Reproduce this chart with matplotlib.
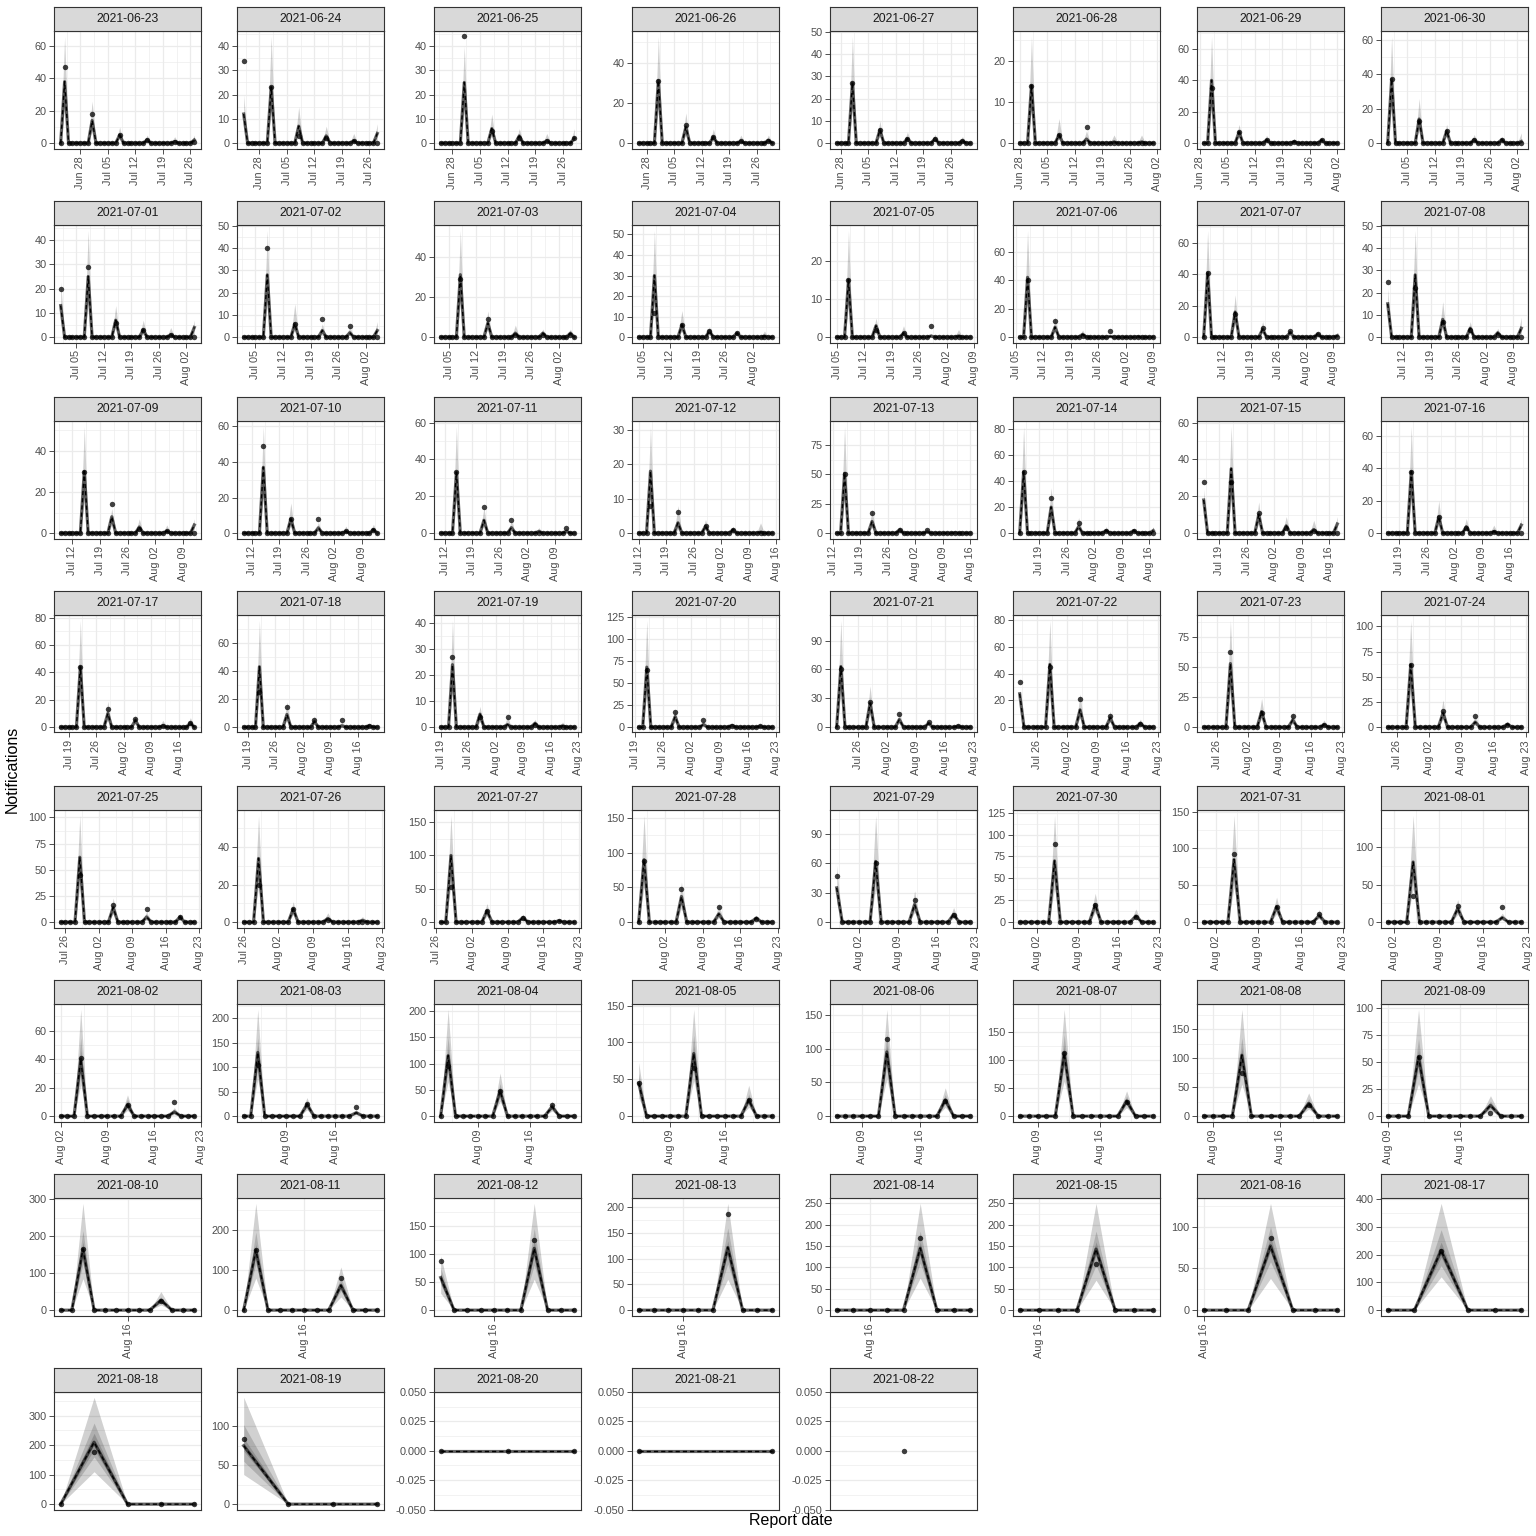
import numpy as np
import pandas as pd
import matplotlib
matplotlib.use("Agg")
import matplotlib.pyplot as plt
import matplotlib.dates as mdates
import matplotlib.transforms as mtransforms
from matplotlib.ticker import MultipleLocator, FuncFormatter

plt.rcParams['font.family'] = ['Liberation Sans', 'DejaVu Sans']

# --- facets: one per reference date, reports daily up to max delay ---
ref_dates = pd.date_range("2021-06-23", "2021-08-22", freq="D")
last_report = pd.Timestamp("2021-08-22")
max_delay = 34

# values on the weekly report day (Thursdays), in order, per reference date
obs_thu = [
    [47, 18, 5, 2, 1], [34, 23, 3, 2, 1], [44, 5, 2, 1, 2], [31, 9, 3, 1, 1],
    [27, 6, 2, 2, 1], [14, 2, 4, 0, 0], [35, 7, 2, 1, 2], [37, 13, 7, 2, 2],
    [20, 29, 6, 3, 1], [40, 6, 8, 5, 0], [29, 9, 1, 1, 1], [12, 6, 3, 2, 0],
    [15, 2, 1, 3, 0], [40, 11, 1, 4, 0], [41, 15, 6, 4, 2], [25, 22, 7, 3, 1],
    [30, 14, 2, 1, 0], [49, 8, 8, 1, 2], [33, 14, 7, 0, 3], [8, 6, 2, 1, 0],
    [50, 17, 3, 3, 0], [47, 27, 8, 2, 2], [28, 28, 11, 3, 1], [38, 10, 3, 1, 0],
    [44, 13, 6, 1, 3], [25, 14, 5, 5, 1], [27, 4, 4, 1, 0], [65, 17, 8, 1, 1],
    [60, 26, 14, 5, 1], [34, 45, 21, 8, 2], [63, 12, 9, 2], [62, 16, 11, 2],
    [45, 16, 13, 5], [20, 7, 1, 0], [52, 16, 6, 2], [88, 48, 22, 5],
    [47, 60, 23, 7], [89, 20, 6], [93, 20, 11], [35, 22, 20],
    [41, 8, 10], [105, 25, 19], [95, 48, 22], [45, 65, 22],
    [114, 22], [113, 25], [75, 20], [55, 3],
    [165, 25], [150, 80], [88, 125], [188],
    [170], [108], [87], [215],
    [178], [84], [], [], [],
]
med_thu = [
    [38, 14, 5, 2, 1], [12, 23, 7, 3, 1], [25, 6, 3, 1, 2], [31, 8, 3, 1, 1.5],
    [27, 6, 2, 2, 1], [14, 2, 1, 0.3, 0.3], [40, 7, 2, 1, 2], [37, 14, 7, 2, 2],
    [13, 25, 7, 3, 1], [28, 6, 3, 2, 3], [31, 7, 2, 2, 2], [30, 6, 3, 2, 0.5],
    [15, 3, 1, 0.3, 0.3], [42, 7, 2, 0.5, 0.3], [41, 16, 5, 3, 2], [15, 28, 8, 4, 2],
    [30, 8, 3, 1, 4], [37, 8, 3, 1, 2], [33, 7, 3, 1, 1], [18, 3, 2, 1, 0.3],
    [51, 10, 3, 1, 0.3], [47, 20, 5, 2, 2], [18, 35, 10, 4, 2], [38, 10, 4, 1, 5],
    [44, 10, 5, 1, 3], [43, 9, 4, 1, 1], [24, 5, 1, 1.5, 0.5], [68, 12, 3, 2, 1],
    [63, 25, 8, 4, 1], [25, 47, 13, 7, 3], [53, 13, 6, 2], [62, 14, 5, 3],
    [62, 14, 5, 5], [34, 7, 2, 1], [100, 17, 7, 2], [90, 37, 12, 6],
    [35, 62, 18, 8], [70, 20, 7], [85, 21, 9], [80, 18, 6],
    [40, 8, 3], [130, 24, 7], [115, 48, 18], [45, 85, 22],
    [95, 24], [112, 27], [105, 22], [55, 10],
    [165, 27], [150, 62], [58, 110], [122],
    [145], [143], [77], [215],
    [210], [75], [], [], [],
]
q05_thu = [
    [21, 8, 3, 1, 0], [6, 13, 4, 1, 0], [14, 3, 1, 0, 1], [17, 4, 1, 0, 0],
    [15, 3, 1, 1, 0], [8, 1, 0, 0, 0], [22, 4, 1, 0, 1], [20, 8, 4, 1, 1],
    [7, 14, 4, 1, 0], [15, 3, 1, 1, 1], [17, 4, 1, 1, 1], [16, 3, 1, 1, 0],
    [8, 1, 0, 0, 0], [23, 4, 1, 0, 0], [23, 9, 3, 1, 1], [8, 15, 4, 2, 1],
    [16, 4, 1, 0, 2], [20, 4, 1, 0, 1], [18, 4, 1, 0, 0], [10, 1, 1, 0, 0],
    [28, 5, 1, 0, 0], [26, 11, 3, 1, 1], [10, 19, 5, 2, 1], [21, 5, 2, 0, 3],
    [24, 5, 2, 0, 1], [24, 5, 2, 0, 0], [13, 2, 0, 0, 0], [37, 6, 1, 1, 0],
    [35, 14, 4, 2, 0], [14, 26, 7, 4, 1], [29, 7, 3, 1], [34, 8, 2, 1],
    [34, 8, 2, 2], [19, 4, 1, 0], [55, 9, 4, 1], [50, 20, 6, 3],
    [19, 34, 10, 4], [38, 11, 4], [47, 11, 5], [44, 10, 3],
    [22, 4, 1], [75, 13, 3], [65, 28, 10], [25, 48, 12],
    [55, 13], [62, 15], [55, 12], [30, 5],
    [85, 14], [80, 33], [30, 55], [60],
    [75], [70], [38], [120],
    [110], [38], [], [], [],
]
q95_thu = [
    [66, 26, 10, 5, 4], [20, 44, 15, 7, 4], [40, 12, 6, 4, 6], [53, 15, 7, 4, 4],
    [48, 10, 5, 4, 3], [26, 6, 3, 2, 2], [68, 12, 5, 3, 3], [62, 26, 11, 5, 4],
    [23, 44, 13, 7, 4], [48, 15, 6, 5, 7], [53, 13, 6, 4, 4], [52, 13, 5, 3, 3],
    [28, 5, 3, 1, 2], [75, 14, 5, 2, 2], [68, 27, 10, 5, 4], [22, 48, 16, 7, 4],
    [52, 12, 7, 4, 7], [60, 17, 6, 4, 5], [58, 14, 7, 3, 3], [31, 8, 4, 2, 3],
    [91, 20, 6, 4, 2], [82, 35, 12, 5, 4], [24, 58, 17, 9, 7], [66, 20, 9, 5, 9],
    [78, 19, 9, 5, 7], [76, 18, 8, 4, 3], [41, 8, 4, 3, 2], [121, 20, 8, 4, 3],
    [111, 43, 15, 7, 4], [28, 80, 25, 12, 6], [89, 24, 12, 6], [106, 27, 12, 6],
    [102, 23, 10, 8], [57, 11, 5, 3], [160, 28, 12, 5], [154, 58, 25, 10],
    [58, 109, 32, 15], [122, 33, 15], [145, 34, 17], [142, 30, 12],
    [75, 15, 6], [218, 38, 13], [203, 82, 28], [73, 145, 42],
    [158, 42], [190, 45], [184, 40], [99, 19],
    [289, 50], [267, 108], [97, 190], [208],
    [250], [250], [128], [385],
    [362], [137], [], [], [],
]
# inner intervals (q20, q35, q65, q80) on report days, where readable
inner_thu = {
    "2021-08-02": [(30, 36, 46, 55), (6, 7, 10, 12), (2, 2.5, 4, 5)],
    "2021-08-03": [(100, 118, 145, 160), (19, 22, 27, 31), (5, 6, 8, 10)],
    "2021-08-04": [(90, 105, 128, 150), (38, 44, 54, 62), (14, 16, 20, 23)],
    "2021-08-05": [(35, 41, 50, 58), (65, 78, 95, 110), (17, 20, 25, 30)],
    "2021-08-06": [(75, 87, 105, 122), (18, 22, 27, 32)],
    "2021-08-07": [(88, 102, 125, 145), (21, 25, 30, 36)],
    "2021-08-08": [(78, 95, 118, 135), (17, 20, 25, 30)],
    "2021-08-09": [(42, 50, 62, 72), (7, 9, 11, 14)],
    "2021-08-10": [(125, 150, 185, 215), (20, 24, 30, 36)],
    "2021-08-11": [(115, 138, 165, 195), (48, 56, 70, 82)],
    "2021-08-12": [(45, 53, 65, 75), (80, 98, 125, 145)],
    "2021-08-13": [(90, 110, 135, 160)],
    "2021-08-14": [(110, 130, 160, 185)],
    "2021-08-15": [(105, 128, 160, 185)],
    "2021-08-16": [(58, 70, 88, 100)],
    "2021-08-17": [(160, 190, 245, 290)],
    "2021-08-18": [(160, 185, 240, 275)],
    "2021-08-19": [(55, 68, 85, 102)],
}
# last report day of the window (max delay) when it is not a Thursday
# (obs, median, q05, q95)
tail_last = {
    "2021-06-23": (1, 2, 0, 5),
    "2021-06-24": (0, 4, 1, 8),
    "2021-06-30": (0, 1, 0, 6),
    "2021-07-01": (0, 4, 1, 7),
    "2021-07-07": (0, 1, 0, 3),
    "2021-07-08": (0, 4, 1, 9),
    "2021-07-14": (0, 2, 0, 5),
    "2021-07-15": (0, 5, 2, 9),
}
# y axis break spacing per facet
y_step = [20, 10, 10, 20, 10, 10, 20, 20,
          10, 10, 20, 10, 10, 20, 20, 10,
          20, 20, 20, 10, 25, 20, 20, 20,
          20, 20, 10, 25, 30, 20, 25, 25,
          25, 20, 50, 50, 30, 25, 50, 50,
          20, 50, 50, 50, 50, 50, 50, 25,
          100, 100, 50, 50, 50, 50, 50, 100,
          100, 50, 0.025, 0.025, 0.025]

# --- layout (pixels of a 1536 x 1536 canvas) ---
S = 1536.0
col_left = [54, 237, 434, 632, 830, 1013, 1197, 1381]
row_top = [7, 201, 397, 591, 786, 980, 1174, 1368]
pw, sh, ph = 147, 24, 117.5
monday0 = mdates.date2num(pd.Timestamp("2021-06-21").to_pydatetime())
all_mondays = monday0 + 7 * np.arange(-2, 14)

fig = plt.figure(figsize=(15.36, 15.36), dpi=100)
label_shift = mtransforms.ScaledTranslation(0.025, 0, fig.dpi_scale_trans)

for i, ref in enumerate(ref_dates):
    r, c = divmod(i, 8)
    key = ref.strftime("%Y-%m-%d")
    left = col_left[c] / S
    ax = fig.add_axes([left, 1 - (row_top[r] + sh + ph) / S, pw / S, ph / S])
    sx = fig.add_axes([left, 1 - (row_top[r] + sh) / S, pw / S, sh / S])

    n = min(max_delay, (last_report - ref).days) + 1
    days = pd.date_range(ref, periods=n, freq="D")
    x = mdates.date2num(days.to_pydatetime())
    thu = list(range((3 - ref.weekday()) % 7, n, 7))

    obs = np.zeros(n); med = np.zeros(n); lo = np.zeros(n); hi = np.zeros(n)
    if thu:
        obs[thu] = obs_thu[i]; med[thu] = med_thu[i]
        lo[thu] = q05_thu[i]; hi[thu] = q95_thu[i]
    if key in tail_last:
        obs[-1], med[-1], lo[-1], hi[-1] = tail_last[key]

    ax.fill_between(x, lo, hi, color='black', alpha=0.18, lw=0)
    if key in inner_thu:
        b = np.array(inner_thu[key], dtype=float)
        q20 = np.zeros(n); q35 = np.zeros(n); q65 = np.zeros(n); q80 = np.zeros(n)
        q20[thu], q35[thu], q65[thu], q80[thu] = b[:, 0], b[:, 1], b[:, 2], b[:, 3]
        ax.fill_between(x, q20, q80, color='black', alpha=0.16, lw=0)
        ax.fill_between(x, q35, q65, color='black', alpha=0.16, lw=0)
    ax.plot(x, med, color='black', alpha=0.6, lw=2.3)
    ax.plot(x, med, color='black', lw=1.0, dashes=(3, 2.2))
    ax.plot(x, obs, 'o', color='black', alpha=0.75, ms=3.9, mew=0, zorder=4)

    ax.margins(x=0.05, y=0.05)
    if n == 1:
        ax.set_xlim(x[0] - 0.5, x[0] + 0.5)
    step = y_step[i]
    if hi.max() == 0 and obs.max() == 0:
        ax.set_ylim(-0.05, 0.05)
        ax.yaxis.set_major_formatter(FuncFormatter(lambda v, p: f"{v:.3f}"))
    else:
        ax.yaxis.set_major_formatter(FuncFormatter(lambda v, p: f"{round(v):d}"))
    ax.yaxis.set_major_locator(MultipleLocator(step))
    ax.yaxis.set_minor_locator(MultipleLocator(step / 2))

    x0, x1 = ax.get_xlim()
    majors = [m for m in all_mondays if x0 <= m <= x1]
    minors = []
    if len(majors) >= 2:
        minors = [m + 3.5 for m in all_mondays if x0 <= m + 3.5 <= x1]
    ax.set_xticks(majors)
    ax.set_xticklabels([mdates.num2date(m).strftime("%b %d") for m in majors],
                       rotation=90)
    for lab in ax.get_xticklabels():
        lab.set_transform(lab.get_transform() + label_shift)
    ax.set_xticks(minors, minor=True)
    ax.set_xlim(x0, x1)

    ax.tick_params(which='major', length=3.5, width=0.6, color='#333333',
                   labelsize=7.8, labelcolor='#4D4D4D', pad=2)
    ax.tick_params(which='minor', length=0)
    ax.grid(True, which='major', color='#EBEBEB', lw=0.9)
    ax.grid(True, which='minor', color='#EBEBEB', lw=0.45)
    ax.set_axisbelow(True)
    for s in ax.spines.values():
        s.set_color('#333333'); s.set_linewidth(0.8)

    sx.set_facecolor('#D9D9D9')
    sx.set_xticks([]); sx.set_yticks([])
    for s in sx.spines.values():
        s.set_color('#333333'); s.set_linewidth(0.8)
    sx.text(0.5, 0.5, key, ha='center', va='center', fontsize=8.8,
            color='#1A1A1A', transform=sx.transAxes)

fig.text(12 / S, 1 - 769 / S, "Notifications", rotation=90, ha='center',
         va='center', fontsize=11.5)
fig.text(791 / S, 1 - 1521 / S, "Report date", ha='center', va='center',
         fontsize=11.5)

fig.savefig("out.png", dpi=100)
